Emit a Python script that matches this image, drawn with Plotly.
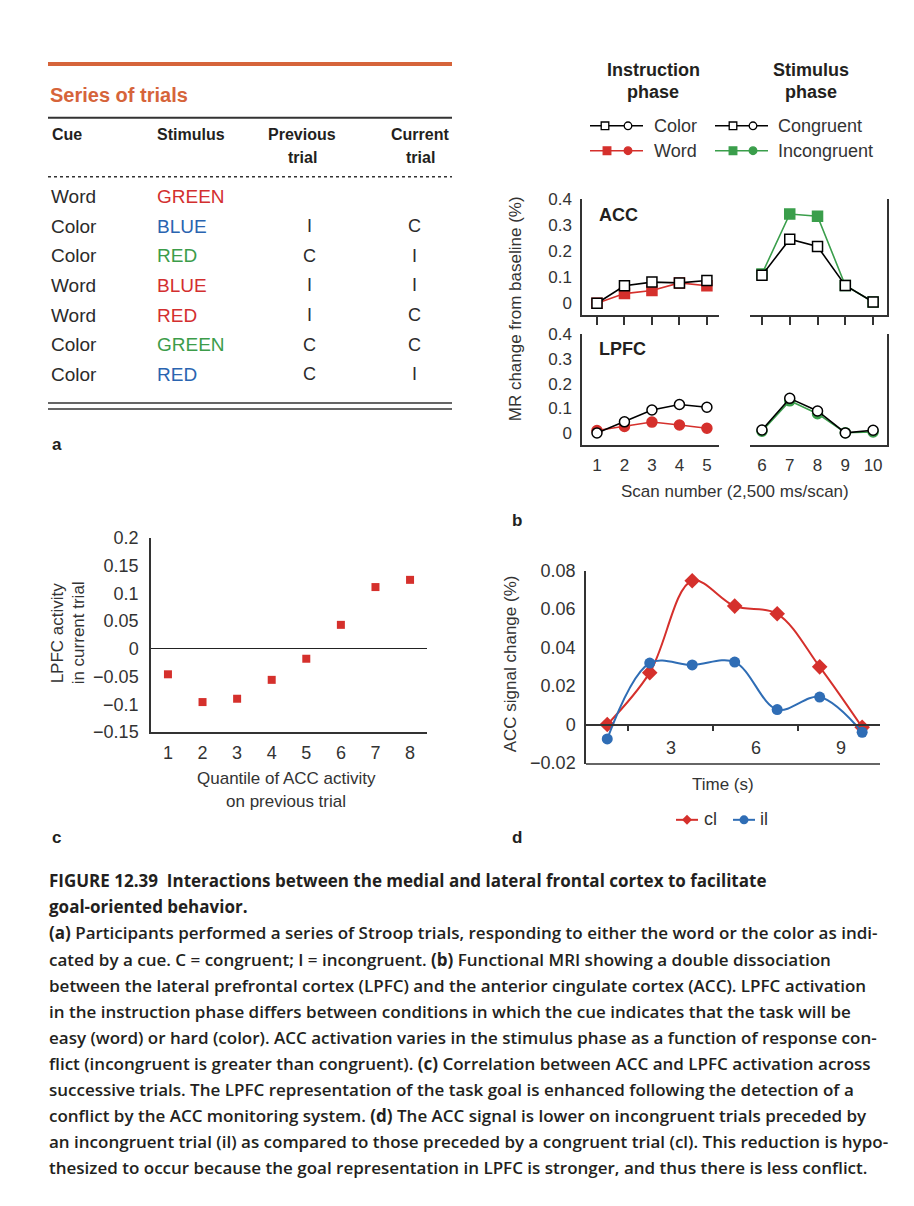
import plotly.graph_objects as go

# page is 914 x 1206; body has an 8px margin, so the figure is sized to fit exactly
PAGE_W, PAGE_H, OFF = 914, 1206, 8
W, H = PAGE_W - 2 * OFF, PAGE_H - 2 * OFF
# observed vertical mapping of the photographed page: shot_y = SHOT_DY + SHOT_SY * page_y
SHOT_DY, SHOT_SY = 8.0, 0.986

# ---------------- data ----------------
# panel a (table)
table_cues = ["Word", "Color", "Color", "Word", "Word", "Color", "Color"]
table_stimuli = ["GREEN", "BLUE", "RED", "BLUE", "RED", "GREEN", "RED"]
table_ink = ["red", "blue", "green", "red", "red", "green", "blue"]
table_previous = ["", "I", "C", "I", "I", "C", "C"]
table_current = ["", "C", "I", "I", "C", "C", "I"]

# panel b
scan_instr = [1, 2, 3, 4, 5]
scan_stim = [6, 7, 8, 9, 10]
acc_color = [0.0, 0.067, 0.081, 0.078, 0.087]
acc_word = [0.0, 0.037, 0.049, 0.078, 0.067]
acc_congruent = [0.107, 0.245, 0.217, 0.068, 0.005]
acc_incongruent = [0.112, 0.341, 0.333, 0.068, 0.005]
lpfc_color = [0.0, 0.045, 0.093, 0.115, 0.104]
lpfc_word = [0.010, 0.026, 0.044, 0.032, 0.019]
lpfc_congruent = [0.012, 0.140, 0.089, 0.0, 0.011]
lpfc_incongruent = [0.007, 0.130, 0.078, 0.001, 0.004]
b_yticks = [0, 0.1, 0.2, 0.3, 0.4]
b_yticktext = ["0", "0.1", "0.2", "0.3", "0.4"]

# panel c
quantile = [1, 2, 3, 4, 5, 6, 7, 8]
lpfc_activity = [-0.046, -0.096, -0.090, -0.056, -0.018, 0.043, 0.111, 0.124]
c_yticks = [-0.15, -0.1, -0.05, 0, 0.05, 0.1, 0.15, 0.2]
c_yticktext = ["\u22120.15", "\u22120.1", "\u22120.05", "0", "0.05", "0.1", "0.15", "0.2"]

# panel d
time_s = [0.75, 2.25, 3.75, 5.25, 6.75, 8.25, 9.75]
acc_cl = [0.0, 0.027, 0.0748, 0.0616, 0.0576, 0.030, -0.0014]
acc_il = [-0.0075, 0.032, 0.031, 0.0325, 0.0078, 0.0143, -0.004]
d_yticks = [-0.02, 0, 0.02, 0.04, 0.06, 0.08]
d_yticktext = ["\u22120.02", "0", "0.02", "0.04", "0.06", "0.08"]
d_xticks = [3, 6, 9]
d_xminor = [1.5, 4.5, 7.5]

caption_lines = [
    "<b>FIGURE 12.39  Interactions between the medial and lateral frontal cortex to facilitate</b>",
    "<b>goal-oriented behavior.</b>",
    "<b>(a)</b> Participants performed a series of Stroop trials, responding to either the word or the color as indi-",
    "cated by a cue. C = congruent; I = incongruent. <b>(b)</b> Functional MRI showing a double dissociation",
    "between the lateral prefrontal cortex (LPFC) and the anterior cingulate cortex (ACC). LPFC activation",
    "in the instruction phase differs between conditions in which the cue indicates that the task will be",
    "easy (word) or hard (color). ACC activation varies in the stimulus phase as a function of response con-",
    "flict (incongruent is greater than congruent). <b>(c)</b> Correlation between ACC and LPFC activation across",
    "successive trials. The LPFC representation of the task goal is enhanced following the detection of a",
    "conflict by the ACC monitoring system. <b>(d)</b> The ACC signal is lower on incongruent trials preceded by",
    "an incongruent trial (il) as compared to those preceded by a congruent trial (cl). This reduction is hypo-",
    "thesized to occur because the goal representation in LPFC is stronger, and thus there is less conflict.",
]

# ---------------- style ----------------
RED = "#d5302c"
GREEN = "#3a9e4b"
BLUE = "#2f6db5"
ORANGE = "#d6643a"
INK = {"red": "#d32f2f", "blue": "#2a64b0", "green": "#3c9c4a"}
TXT = "#231f20"
AX = "#333333"
FONT = "Liberation Sans"
CAPFONT = "Open Sans"


def fx(px):
    return (px - OFF) / W


def fy(py):
    page_y = (py - SHOT_DY) / SHOT_SY
    return 1 - (page_y - OFF) / H


annotations = []
shapes = []


def ann(x, y, text, size=17, color=TXT, family=FONT, xanchor="left", yanchor="middle",
        angle=0, weight=None, align="left"):
    f = dict(size=size, color=color, family=family)
    if weight is not None:
        f["weight"] = weight
    annotations.append(dict(x=fx(x), y=fy(y), xref="paper", yref="paper", text=text,
                            showarrow=False, xanchor=xanchor, yanchor=yanchor,
                            textangle=angle, font=f, align=align))


def hline(x0, x1, y, color, width, dash="solid"):
    shapes.append(dict(type="line", xref="paper", yref="paper", x0=fx(x0), x1=fx(x1),
                       y0=fy(y), y1=fy(y), line=dict(color=color, width=width, dash=dash)))


fig = go.Figure()

# ---------------- panel a : table ----------------
hline(48, 452, 62, ORANGE, 4)
ann(48, 93, "<b>Series of trials</b>", size=20, color=ORANGE)
hline(48, 452, 116, "#333", 2)
ann(50, 133, "<b>Cue</b>", size=16)
ann(155, 133, "<b>Stimulus</b>", size=16)
ann(302, 133, "<b>Previous</b>", size=16, xanchor="center")
ann(302, 156, "<b>trial</b>", size=16, xanchor="center")
ann(420, 133, "<b>Current</b>", size=16, xanchor="center")
ann(420, 156, "<b>trial</b>", size=16, xanchor="center")
hline(48, 452, 175, "#333", 1.5, dash="dot")
row_y0, row_dy = 195, 29.7
for i in range(len(table_cues)):
    y = row_y0 + i * row_dy
    ann(49, y, table_cues[i], size=19, color="#2b2b2b")
    ann(155, y, table_stimuli[i], size=19, color=INK[table_ink[i]])
    if table_previous[i]:
        ann(309, y, table_previous[i], size=18, color="#2b2b2b", xanchor="center")
    if table_current[i]:
        ann(414, y, table_current[i], size=18, color="#2b2b2b", xanchor="center")
hline(48, 452, 402, "#333", 1.5)
hline(48, 452, 408, "#333", 1.5)
ann(50, 444, "<b>a</b>", size=17)

# ---------------- panel b ----------------
def line_trace(x, y, xa, ya, color, symbol, filled):
    return go.Scatter(
        x=x, y=y, xaxis=xa, yaxis=ya, mode="lines+markers", cliponaxis=False,
        line=dict(color=color, width=1.6),
        marker=dict(symbol=symbol, size=10,
                    color=color if filled else "white",
                    line=dict(color=color, width=1.5)),
        showlegend=False, hoverinfo="skip")


fig.add_trace(line_trace(scan_instr, acc_word, "x", "y", RED, "square", True))
fig.add_trace(line_trace(scan_instr, acc_color, "x", "y", "black", "square", False))
fig.add_trace(line_trace(scan_stim, acc_incongruent, "x2", "y2", GREEN, "square", True))
fig.add_trace(line_trace(scan_stim, acc_congruent, "x2", "y2", "black", "square", False))
fig.add_trace(line_trace(scan_instr, lpfc_word, "x3", "y3", RED, "circle", True))
fig.add_trace(line_trace(scan_instr, lpfc_color, "x3", "y3", "black", "circle", False))
fig.add_trace(line_trace(scan_stim, lpfc_incongruent, "x4", "y4", GREEN, "circle", True))
fig.add_trace(line_trace(scan_stim, lpfc_congruent, "x4", "y4", "black", "circle", False))

b_left = [582, 719]
b_right = [750, 887]
acc_yd = [fy(314), fy(197)]
lpfc_yd = [fy(444), fy(333)]
tickfont_b = dict(family=FONT, size=17, color="#333")

layout_axes = {}
for name, dom, xr, ydom, vals, labels in [
    ("xaxis", b_left, [0.455, 5.44], acc_yd, scan_instr, False),
    ("xaxis2", b_right, [5.57, 10.5], acc_yd, scan_stim, False),
    ("xaxis3", b_left, [0.455, 5.44], lpfc_yd, scan_instr, True),
    ("xaxis4", b_right, [5.57, 10.5], lpfc_yd, scan_stim, True),
]:
    idx = name[5:] or ""
    layout_axes[name] = dict(
        domain=[fx(dom[0]), fx(dom[1])], range=xr, anchor="y" + idx,
        showline=True, linecolor=AX, linewidth=1.5, showgrid=False, zeroline=False,
        tickmode="array", tickvals=vals, showticklabels=labels,
        ticks="outside", ticklen=(4 if labels else 8),
        tickcolor=("rgba(0,0,0,0)" if labels else AX), tickwidth=1.5,
        tickfont=tickfont_b)

for name, ydom, yr, side in [
    ("yaxis", acc_yd, [-0.0457, 0.4], "left"),
    ("yaxis2", acc_yd, [-0.0457, 0.4], "right"),
    ("yaxis3", lpfc_yd, [-0.0485, 0.4], "left"),
    ("yaxis4", lpfc_yd, [-0.0485, 0.4], "right"),
]:
    idx = name[5:] or ""
    layout_axes[name] = dict(
        domain=ydom, range=yr, anchor="x" + idx, side=side,
        showline=True, linecolor=AX, linewidth=1.5, showgrid=False, zeroline=False,
        tickmode="array", tickvals=b_yticks, ticktext=b_yticktext,
        showticklabels=(side == "left"), ticks="outside", ticklen=5,
        tickcolor="rgba(0,0,0,0)", tickfont=tickfont_b)

ann(653, 68, "<b>Instruction</b>", size=18, xanchor="center")
ann(653, 90, "<b>phase</b>", size=18, xanchor="center")
ann(811, 68, "<b>Stimulus</b>", size=18, xanchor="center")
ann(811, 90, "<b>phase</b>", size=18, xanchor="center")
ann(597, 213, "<b>ACC</b>", size=18)
ann(597, 348, "<b>LPFC</b>", size=18)
ann(515, 307, "MR change from baseline (%)", size=17, xanchor="center", angle=-90, color="#333")
ann(735, 491, "Scan number (2,500 ms/scan)", size=17, xanchor="center", color="#333")
ann(510, 520, "<b>b</b>", size=17)


def legend_glyph(x0, x1, sq, ci, y, color, filled):
    hline(x0, x1, y, color, 1.5)
    s = 3.8
    fill = color if filled else "white"
    shapes.append(dict(type="rect", xref="paper", yref="paper",
                       x0=fx(sq - s), x1=fx(sq + s), y0=fy(y + s), y1=fy(y - s),
                       fillcolor=fill, line=dict(color=color, width=1.3)))
    shapes.append(dict(type="circle", xref="paper", yref="paper",
                       x0=fx(ci - s), x1=fx(ci + s), y0=fy(y + s), y1=fy(y - s),
                       fillcolor=fill, line=dict(color=color, width=1.3)))


legend_glyph(590, 643, 605, 628, 124, "black", False)
legend_glyph(590, 643, 607, 628, 149, RED, True)
legend_glyph(715, 768, 733, 753, 124, "black", False)
legend_glyph(715, 768, 733, 753, 149, GREEN, True)
ann(652, 124, "Color", size=18, color="#333")
ann(652, 149, "Word", size=18, color="#333")
ann(776, 124, "Congruent", size=18, color="#333")
ann(776, 149, "Incongruent", size=18, color="#333")

# ---------------- panel c ----------------
fig.add_trace(go.Scatter(
    x=quantile, y=lpfc_activity, xaxis="x5", yaxis="y5", mode="markers",
    marker=dict(symbol="square", size=8, color=RED), showlegend=False,
    hoverinfo="skip", cliponaxis=False))
tickfont_c = dict(family=FONT, size=18, color="#333")
layout_axes["xaxis5"] = dict(
    domain=[fx(151), fx(427)], range=[0.51, 8.49], anchor="y5",
    showline=True, linecolor=AX, linewidth=1.5, showgrid=False, zeroline=False,
    tickmode="array", tickvals=quantile, ticks="outside", ticklen=4,
    tickcolor="rgba(0,0,0,0)", tickfont=tickfont_c)
layout_axes["yaxis5"] = dict(
    domain=[fy(732), fy(537)], range=[-0.15, 0.2], anchor="x5",
    showline=True, linecolor=AX, linewidth=1.5, showgrid=False,
    zeroline=True, zerolinecolor="#222", zerolinewidth=1.3,
    tickmode="array", tickvals=c_yticks, ticktext=c_yticktext,
    ticks="outside", ticklen=7, tickcolor="rgba(0,0,0,0)", tickfont=tickfont_c)
ann(57, 633, "LPFC activity", size=17, xanchor="center", angle=-90, color="#333")
ann(78, 633, "in current trial", size=17, xanchor="center", angle=-90, color="#333")
ann(286, 779, "Quantile of ACC activity", size=17, xanchor="center", color="#333")
ann(286, 802, "on previous trial", size=17, xanchor="center", color="#333")
ann(50, 838, "<b>c</b>", size=17)

# ---------------- panel d ----------------
fig.add_trace(go.Scatter(
    x=time_s, y=acc_cl, xaxis="x6", yaxis="y6", mode="lines+markers",
    line=dict(color=RED, width=2, shape="spline", smoothing=1.0),
    marker=dict(symbol="diamond", size=12, color=RED), showlegend=False,
    hoverinfo="skip", cliponaxis=False))
fig.add_trace(go.Scatter(
    x=time_s, y=acc_il, xaxis="x6", yaxis="y6", mode="lines+markers",
    line=dict(color=BLUE, width=2, shape="spline", smoothing=1.0),
    marker=dict(symbol="circle", size=11, color=BLUE), showlegend=False,
    hoverinfo="skip", cliponaxis=False))
d_yr = [-0.0205, 0.0801]
d_top, d_bot = 570, 764
zero_frac = (0 - d_yr[0]) / (d_yr[1] - d_yr[0])
zero_pos = fy(d_bot) + zero_frac * (fy(d_top) - fy(d_bot))
tickfont_d = dict(family=FONT, size=18, color="#333")
layout_axes["xaxis6"] = dict(
    domain=[fx(586), fx(880)], range=[0.0, 10.38], anchor="free", position=zero_pos,
    showline=True, linecolor=AX, linewidth=1.5, showgrid=False, zeroline=False,
    tickmode="array", tickvals=d_xticks, ticks="outside", ticklen=7,
    tickcolor="rgba(0,0,0,0)", tickfont=tickfont_d,
    minor=dict(tickmode="array", tickvals=d_xminor, ticks="outside", ticklen=6,
               tickcolor=AX, tickwidth=1.5, showgrid=False))
layout_axes["yaxis6"] = dict(
    domain=[fy(d_bot), fy(d_top)], range=d_yr, anchor="x6",
    showline=True, linecolor=AX, linewidth=1.5, showgrid=False, zeroline=False,
    tickmode="array", tickvals=d_yticks, ticktext=d_yticktext,
    ticks="outside", ticklen=5, tickcolor="rgba(0,0,0,0)", tickfont=tickfont_d)
hline(586, 880, d_bot, AX, 1.5)
ann(510, 663, "ACC signal change (%)", size=17, xanchor="center", angle=-90, color="#333")
ann(723, 785, "Time (s)", size=17, xanchor="center", color="#333")

# legend d
hline(676, 698, 820, RED, 2)
ds = 5
shapes.append(dict(type="path", xref="paper", yref="paper",
                   path=f"M {fx(687 - ds)},{fy(820)} L {fx(687)},{fy(820 - ds)} L {fx(687 + ds)},{fy(820)} L {fx(687)},{fy(820 + ds)} Z",
                   fillcolor=RED, line=dict(color=RED, width=0)))
hline(733, 755, 820, BLUE, 2)
shapes.append(dict(type="circle", xref="paper", yref="paper",
                   x0=fx(744 - 4.5), x1=fx(744 + 4.5), y0=fy(820 + 4.5), y1=fy(820 - 4.5),
                   fillcolor=BLUE, line=dict(color=BLUE, width=0)))
ann(702, 819, "cl", size=18, color="#333")
ann(758, 819, "il", size=18, color="#333")
ann(510, 838, "<b>d</b>", size=17)

# ---------------- caption ----------------
cap_y = [881, 907, 933, 960, 986, 1012, 1038, 1064, 1090, 1117, 1143, 1169]
for yv, line in zip(cap_y, caption_lines):
    ann(47, yv, line, size=17, family=CAPFONT, color=TXT, weight=600)

fig.update_layout(
    width=W, height=H, margin=dict(l=0, r=0, t=0, b=0),
    paper_bgcolor="white", plot_bgcolor="white",
    font=dict(family=FONT, color=TXT),
    annotations=annotations, shapes=shapes, showlegend=False,
    **layout_axes)

fig.write_html("out.html", config={"displayModeBar": False})
